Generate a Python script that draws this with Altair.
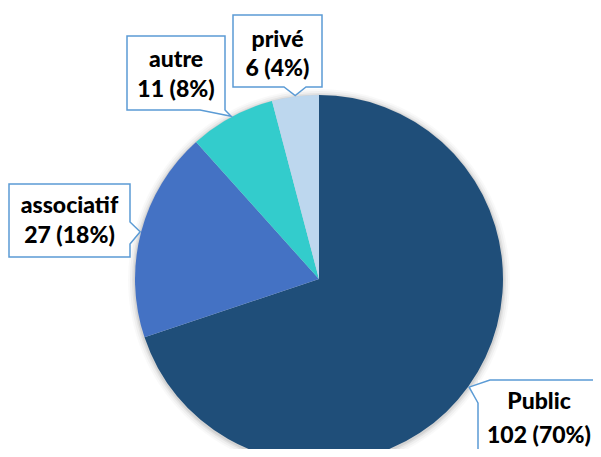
import math
import altair as alt
import pandas as pd

# ---- data ----
categories = ["Public", "associatif", "autre", "privé"]
counts = [102, 27, 11, 6]
percents = ["70%", "18%", "8%", "4%"]
colors = ["#1F4E79", "#4472C4", "#33CCCC", "#BDD7EE"]

# ---- layout ----
W, H = 585, 441
CX, CY, R = 319, 279, 184
BORDER = "#5B9BD5"

xs = alt.Scale(domain=[8, 8 + W], range=[0, W], nice=False, zero=False)
ys = alt.Scale(domain=[8, 8 + H], range=[0, H], nice=False, zero=False)

pie_df = pd.DataFrame({"cat": categories, "n": counts, "ord": list(range(len(categories)))})

# tip points at each slice's mid angle on the pie edge
total = sum(counts)
tips = {}
cum = 0
for c, n in zip(categories, counts):
    a = 2 * math.pi * (cum + n / 2) / total
    tips[c] = (CX + (R + 1) * math.sin(a), CY - (R + 1) * math.cos(a))
    cum += n

# box outlines (x0, y0, x1, y1) and vertex lists including pointer
boxes = {
    "Public": (478, 380, 612, 453),
    "associatif": (9, 184, 130, 257),
    "autre": (127, 36, 225, 110),
    "privé": (233, 15, 322, 87),
}

def outline(c):
    x0, y0, x1, y1 = boxes[c]
    tx, ty = tips[c]
    if c == "Public":
        pts = [(x0, 403), (tx, ty), (490, y0), (x1, y0), (x1, y1), (x0, y1)]
    elif c == "associatif":
        pts = [(x0, y0), (x1, y0), (x1, 222), (tx, ty), (x1, 244), (x1, y1), (x0, y1)]
    elif c == "autre":
        pts = [(x0, y0), (x1, y0), (x1, y1), (tx, ty), (200, y1), (x0, y1)]
    else:
        pts = [(x0, y0), (x1, y0), (x1, y1), (306, y1), (tx, ty), (284, y1), (x0, y1)]
    return pts

rows = []
for c in categories:
    for i, (px, py) in enumerate(outline(c)):
        rows.append({"cat": c, "px": px, "py": py, "i": i})
line_df = pd.DataFrame(rows)

rect_df = pd.DataFrame([
    {"cat": c, "x0": b[0], "y0": b[1], "x1": b[2], "y1": b[3]} for c, b in boxes.items()
])

text_pos = {
    "Public": (539, 409, 443),
    "associatif": (69.5, 213, 243),
    "autre": (176, 67, 97),
    "privé": (277.5, 47, 76),
}
trows = []
for c, n, p in zip(categories, counts, percents):
    tx, y1, y2 = text_pos[c]
    trows.append({"t": c, "tx": tx, "ty": y1})
    trows.append({"t": f"{n} ({p})", "tx": tx, "ty": y2})
text_df = pd.DataFrame(trows)

# ---- layers ----
shadow_layers = []
for k, op in [(7, 0.025), (5, 0.035), (3, 0.05), (1.5, 0.07)]:
    shadow_layers.append(
        alt.Chart(pie_df.head(1)).mark_arc(
            theta=0, theta2=2 * math.pi, outerRadius=R + k, color="#000000", opacity=op
        ).encode(x=alt.value(CX - 8), y=alt.value(CY - 8 + 1))
    )

pie = alt.Chart(pie_df).mark_arc(outerRadius=R).encode(
    theta=alt.Theta("n:Q", stack=True),
    order=alt.Order("ord:Q"),
    color=alt.Color("cat:N", scale=alt.Scale(domain=categories, range=colors), legend=None),
    x=alt.value(CX - 8),
    y=alt.value(CY - 8),
)

rects = alt.Chart(rect_df).mark_rect(color="white").encode(
    x=alt.X("x0:Q", scale=xs, axis=None),
    x2="x1:Q",
    y=alt.Y("y0:Q", scale=ys, axis=None),
    y2="y1:Q",
)

lines = alt.Chart(line_df).mark_line(
    fill="white", stroke=BORDER, strokeWidth=1.5, interpolate="linear-closed"
).encode(
    x=alt.X("px:Q", scale=xs, axis=None),
    y=alt.Y("py:Q", scale=ys, axis=None),
    detail="cat:N",
    order="i:Q",
)

texts = alt.Chart(text_df).mark_text(
    font="Lato", fontWeight=900, fontSize=23, color="#000000",
    align="center", baseline="alphabetic",
).encode(
    x=alt.X("tx:Q", scale=xs, axis=None),
    y=alt.Y("ty:Q", scale=ys, axis=None),
    text="t:N",
)

chart = alt.layer(*shadow_layers, pie, rects, lines, texts).properties(
    width=W, height=H, padding=0, autosize=alt.AutoSizeParams(type="none"),
    background="white",
).configure_view(stroke=None)

chart.save("out.html", embed_options={"renderer": "svg", "actions": False})
